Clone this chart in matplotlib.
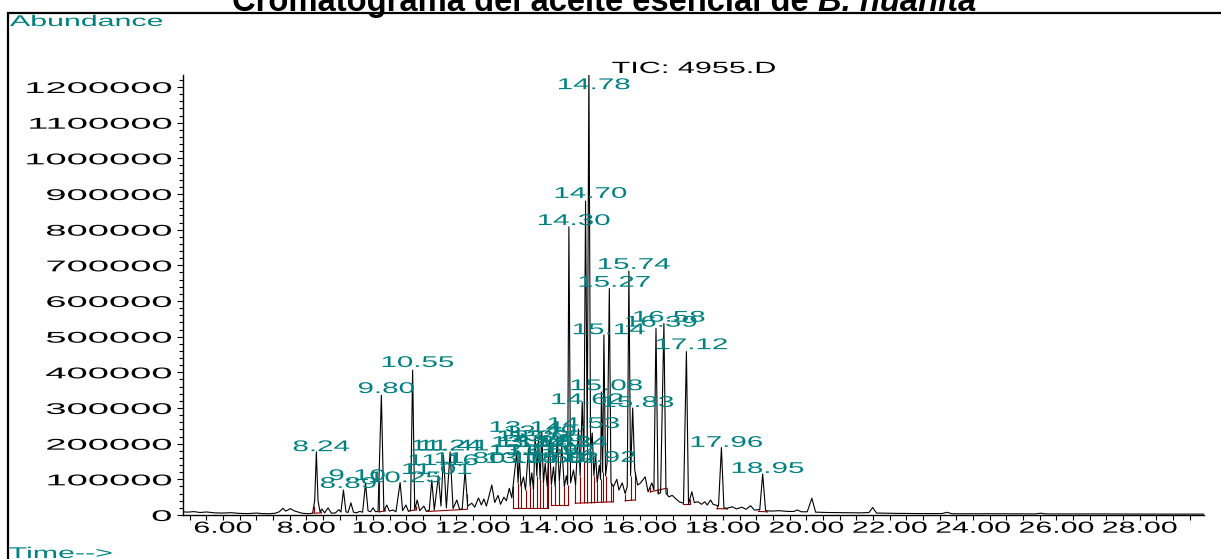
import numpy as np
import matplotlib
matplotlib.use('Agg')
import matplotlib.pyplot as plt
from matplotlib.patheffects import AbstractPathEffect
from matplotlib.transforms import Affine2D
from matplotlib.patches import Rectangle
from matplotlib.ticker import MultipleLocator, FormatStrFormatter

plt.rcParams['font.family'] = ['Liberation Sans', 'DejaVu Sans']

tiempo = [5.04, 5.15, 5.30, 5.45, 5.60, 5.80, 6.00, 6.20, 6.40, 6.60, 6.80, 6.95, 7.10, 7.25, 7.35,
          7.44, 7.50, 7.56, 7.62, 7.70, 7.78, 7.90, 8.05, 8.15, 8.20, 8.24, 8.28, 8.33, 8.37, 8.44,
          8.52, 8.60, 8.70, 8.78, 8.83, 8.89, 8.95, 9.00, 9.07, 9.13, 9.20, 9.28, 9.35, 9.42, 9.48,
          9.54, 9.60, 9.66, 9.72, 9.80, 9.86, 9.93, 9.99, 10.08, 10.15, 10.25, 10.31, 10.39, 10.45,
          10.50, 10.55, 10.60, 10.66, 10.72, 10.82, 10.88, 10.95, 11.01, 11.07, 11.17, 11.23, 11.29,
          11.36, 11.45, 11.52, 11.61, 11.68, 11.74, 11.81, 11.87, 11.97, 12.04, 12.13, 12.20, 12.26,
          12.32, 12.38, 12.45, 12.52, 12.60, 12.66, 12.74, 12.80, 12.87, 12.93, 13.05, 13.08, 13.11,
          13.15, 13.21, 13.26, 13.33, 13.37, 13.41, 13.45, 13.49, 13.53, 13.57, 13.61, 13.65, 13.69,
          13.73, 13.78, 13.83, 13.88, 13.93, 13.97, 14.02, 14.07, 14.13, 14.19, 14.24, 14.27, 14.30,
          14.34, 14.41, 14.46, 14.53, 14.57, 14.62, 14.66, 14.70, 14.74, 14.78, 14.82, 14.86, 14.90,
          14.94, 14.98, 15.03, 15.06, 15.08, 15.11, 15.14, 15.18, 15.22, 15.27, 15.31, 15.37, 15.45,
          15.50, 15.58, 15.65, 15.70, 15.74, 15.78, 15.83, 15.88, 15.95, 16.02, 16.13, 16.20, 16.29,
          16.34, 16.39, 16.44, 16.50, 16.58, 16.63, 16.70, 16.78, 16.85, 16.95, 17.05, 17.12, 17.17,
          17.25, 17.31, 17.40, 17.48, 17.56, 17.62, 17.70, 17.76, 17.82, 17.89, 17.96, 18.02, 18.10,
          18.22, 18.32, 18.45, 18.55, 18.66, 18.75, 18.88, 18.95, 19.02, 19.15, 19.35, 19.55, 19.70,
          19.78, 19.88, 20.02, 20.13, 20.22, 20.50, 20.90, 21.30, 21.50, 21.59, 21.68, 22.20, 22.80,
          23.25, 23.37, 23.50, 24.50, 25.50, 25.62, 25.75, 27.00, 28.50, 29.54]
abundancia = [9000, 8000, 9500, 7000, 8500, 6000, 5500, 6500, 4500, 4000, 5500, 4000, 3500, 5000, 9000,
              19000, 11000, 14000, 18000, 12000, 9000, 5000, 3500, 5000, 40000, 177000, 40000, 8000, 17000, 6000,
              20000, 5000, 6000, 15000, 8000, 70000, 9000, 7000, 34000, 8000, 6000, 10000, 8000, 89000, 12000,
              9000, 20000, 9000, 10000, 336000, 12000, 28000, 11000, 14000, 9000, 91000, 12000, 28000, 10000,
              14000, 406000, 15000, 42000, 12000, 25000, 10000, 14000, 98000, 14000, 110000, 25000, 168000,
              20000, 177000, 18000, 42000, 15000, 18000, 125000, 25000, 33000, 22000, 48000, 28000, 45000,
              25000, 52000, 84000, 35000, 55000, 30000, 50000, 40000, 75000, 48000, 177000, 90000, 163000,
              80000, 107000, 70000, 187000, 80000, 118000, 70000, 220000, 110000, 210000, 100000, 234000, 90000,
              145000, 80000, 210000, 85000, 135000, 80000, 220000, 95000, 191000, 80000, 110000, 85000, 808000,
              90000, 126000, 85000, 241000, 110000, 317000, 150000, 880000, 200000, 1260000, 180000, 230000, 110000,
              170000, 90000, 140000, 100000, 345000, 120000, 505000, 110000, 150000, 635000, 90000, 80000, 100000,
              70000, 90000, 60000, 80000, 684000, 110000, 300000, 126000, 84000, 90000, 107000, 65000, 90000,
              70000, 523000, 60000, 62000, 537000, 61000, 51000, 55000, 47000, 37000, 33000, 458000, 31000,
              65000, 35000, 37000, 30000, 37000, 28000, 42000, 30000, 28000, 25000, 189000, 20000, 19000,
              23000, 17000, 22000, 16000, 26000, 14000, 15000, 115000, 12000, 11000, 12000, 10000, 10000,
              14000, 9000, 9000, 47000, 8000, 7000, 6500, 6000, 7000, 21000, 5500, 4500, 4000,
              4000, 7500, 3500, 3500, 3000, 5000, 3000, 3000, 2500, 2500]

# Etiquetas de picos (tiempo de retencion y altura donde se escribe)
etiq_t = [8.24, 8.89, 9.10, 9.80, 10.25, 10.55, 11.01, 11.16, 11.24, 11.41, 11.80,
          13.05, 13.11, 13.14, 13.20, 13.33, 13.36, 13.49, 13.56, 13.65, 13.68, 13.83,
          13.92, 14.02, 14.24, 14.30, 14.53, 14.62, 14.70, 14.78, 14.92, 15.08, 15.14,
          15.27, 15.74, 15.83, 16.39, 16.58, 17.12, 17.96, 18.95]
etiq_y = [179000, 76000, 98000, 342000, 92000, 415000, 115000, 140000, 181000, 181000, 146000,
          146000, 168000, 233000, 191000, 207000, 191000, 221000, 168000, 207000, 146000, 191000,
          168000, 146000, 191000, 813000, 244000, 311000, 889000, 1194000, 149000, 350000, 507000,
          640000, 690000, 303000, 528000, 542000, 465000, 191000, 118000]

# Integracion: lineas base (inicio, fin, abundancia inicio, abundancia fin)
base_t0 = [8.18, 9.74, 10.49, 10.92, 12.96, 13.88, 14.45, 15.65, 16.25, 17.05, 17.85, 18.85]
base_t1 = [8.34, 9.88, 10.62, 11.85, 13.81, 14.27, 15.35, 15.89, 16.65, 17.20, 18.10, 19.05]
base_a0 = [5000, 9000, 12000, 10000, 19000, 28000, 33000, 40000, 65000, 31000, 18000, 10000]
base_a1 = [6000, 11000, 14000, 16000, 19000, 28000, 37000, 42000, 75000, 31000, 17000, 9000]
cortes = [13.08, 13.15, 13.26, 13.37, 13.45, 13.53, 13.61, 13.69, 13.78, 13.97, 14.07, 14.19,
          14.57, 14.66, 14.74, 14.82, 14.90, 14.98, 15.06, 15.11, 15.18, 15.31, 15.78, 16.44]

y_ticks = list(range(0, 1200001, 100000))
y_labels = [str(v) for v in y_ticks]

teal = '#008080'
rojo = '#8b0000'


class Ancho(AbstractPathEffect):
    # el original esta estirado en horizontal, se estira el texto igual
    def __init__(self, sx, fijo=0.5):
        super().__init__()
        self.sx = sx
        self.fijo = fijo

    def draw_path(self, renderer, gc, tpath, affine, rgbFace=None):
        m = affine.get_matrix().copy()
        if len(tpath.vertices) > 0:
            ext = tpath.get_extents()
            x0 = m[0, 0] * ext.x0 + m[0, 2]
            x1 = m[0, 0] * ext.x1 + m[0, 2]
            cx = x0 + self.fijo * (x1 - x0)
            m[0, 0] *= self.sx
            m[0, 1] *= self.sx
            m[0, 2] = self.sx * m[0, 2] + (1 - self.sx) * cx
        renderer.draw_path(gc, tpath, Affine2D(m), rgbFace)


fig = plt.figure(figsize=(W / 100 if (W := 1221) else 0, 5.59), dpi=100)
H = 559
ax = fig.add_axes([183 / W, 44 / H, (1204 - 183) / W, (515 - 75) / H])

# integracion en rojo
for t0, t1, a0, a1 in zip(base_t0, base_t1, base_a0, base_a1):
    ax.plot([t0, t1], [a0, a1], color=rojo, lw=0.8, zorder=2)
    xs = [t0] + [c for c in cortes if t0 < c < t1] + [t1]
    bajo = np.interp(xs, [t0, t1], [a0, a1])
    alto = np.interp(xs, tiempo, abundancia)
    ax.vlines(xs, bajo, alto, color=rojo, lw=0.8, zorder=2)

ax.plot(tiempo, abundancia, color='black', lw=0.8, zorder=3)

for t, y in zip(etiq_t, etiq_y):
    ax.annotate(f'{t:.2f}', (t, y), xytext=(3.5, 0), textcoords='offset points',
                ha='center', va='baseline', color=teal, fontsize=11.2,
                path_effects=[Ancho(1.9)], zorder=4, annotation_clip=False)

ax.set_xlim(5.04, 29.54)
ax.set_ylim(0, 1233600)
ax.spines['top'].set_visible(False)
ax.spines['right'].set_visible(False)
ax.spines['left'].set_linewidth(1.0)
ax.spines['bottom'].set_linewidth(1.0)

ax.set_xticks(np.arange(6, 29, 2))
ax.xaxis.set_major_formatter(FormatStrFormatter('%.2f'))
ax.xaxis.set_minor_locator(MultipleLocator(0.4))
ax.set_yticks(y_ticks, y_labels)
ax.yaxis.set_minor_locator(MultipleLocator(20000))
ax.tick_params(axis='x', which='both', direction='out', length=3.6, width=0.8, pad=0.5,
               labelsize=11.5)
ax.tick_params(axis='y', which='major', direction='out', length=4.3, width=0.8, pad=4,
               labelsize=11.2)
ax.tick_params(axis='y', which='minor', direction='out', length=2.8, width=0.8)

for lab in ax.get_xticklabels():
    lab.set_path_effects([Ancho(1.9)])
for lab in ax.get_yticklabels():
    lab.set_path_effects([Ancho(2.45, fijo=1.0)])

# textos de la figura
fig.text(10 / W, 1 - 26 / H, 'Abundance', color=teal, fontsize=11.2, va='baseline',
         path_effects=[Ancho(1.95, fijo=0.0)])
fig.text(9 / W, 1 / H, 'Time-->', color=teal, fontsize=11.2, va='baseline',
         path_effects=[Ancho(1.95, fijo=0.0)])
fig.text(612 / W, 1 - 73 / H, 'TIC: 4955.D', color='black', fontsize=11.7, va='baseline',
         path_effects=[Ancho(1.88, fijo=0.0)])

# titulo (cortado arriba en el original)
t1 = fig.text(232 / W, 1 - 11 / H, 'Cromatograma del aceite esencial de ', fontsize=23.6,
              weight='bold', va='baseline')
fig.canvas.draw()
bb = t1.get_window_extent(renderer=fig.canvas.get_renderer())
fig.text(bb.x1 / W, 1 - 11 / H, 'B. huanita', fontsize=23.6, weight='bold', style='italic',
         va='baseline')

# marco negro
fig.patches.append(Rectangle((8 / W, -0.2), 1.2, 1.2 - 12.5 / H, transform=fig.transFigure,
                             fill=False, edgecolor='black', lw=1.6))

fig.savefig('out.png', dpi=100)
